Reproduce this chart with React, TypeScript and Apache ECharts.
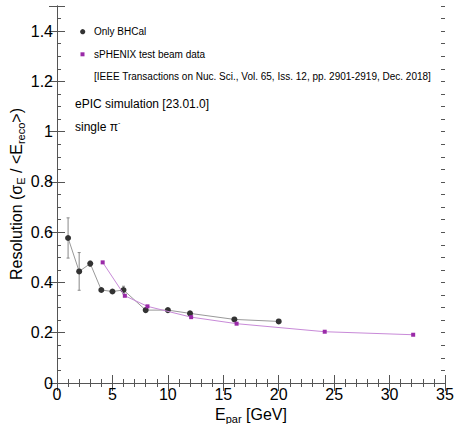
import React, { useEffect, useRef } from "react";
import * as echarts from "echarts";

const bhcalX = [1, 2, 3, 4, 5, 6, 8, 10, 12, 16, 20];
const bhcalY = [0.577, 0.444, 0.475, 0.37, 0.364, 0.37, 0.29, 0.29, 0.277, 0.253, 0.245];
const bhcalErr = [0.08, 0.075, 0.01, 0.005, 0.004, 0.015, 0.006, 0.005, 0.006, 0.004, 0.004];
const sphenixX = [4.12, 6.12, 8.16, 12.1, 16.2, 24.15, 32.13];
const sphenixY = [0.48, 0.347, 0.305, 0.262, 0.236, 0.204, 0.192];

const FONT = "Liberation Sans, Arial, Helvetica, sans-serif";
const AX = "#555";

export default function App() {
  const ref = useRef<HTMLDivElement>(null);
  useEffect(() => {
    if (!ref.current) return;
    const chart = echarts.init(ref.current, null, { renderer: "svg" });
    const tickBase = { show: true, inside: true, lineStyle: { color: AX, width: 1 } };
    const xCommon = {
      type: "value",
      min: 0,
      max: 35,
      interval: 5,
      axisLine: { show: true, lineStyle: { color: AX, width: 1 } },
      axisTick: { ...tickBase, length: 8 },
      minorTick: { show: true, splitNumber: 5, length: 4, lineStyle: { color: AX, width: 1 } },
      splitLine: { show: false },
      minorSplitLine: { show: false },
    };
    const yMajor = {
      type: "value",
      min: 0,
      max: 1.5,
      interval: 0.2,
      axisLine: { show: true, lineStyle: { color: AX, width: 1 } },
      axisTick: { ...tickBase, length: 8 },
      splitLine: { show: false },
    };
    const yMinor = {
      type: "value",
      min: 0,
      max: 1.5,
      interval: 0.05,
      axisLine: { show: false },
      axisTick: { ...tickBase, length: 4 },
      axisLabel: { show: false },
      splitLine: { show: false },
    };
    chart.setOption({
      animation: false,
      grid: { left: 57, right: 12, top: 6, bottom: 41, containLabel: false },
      xAxis: [
        {
          ...xCommon,
          position: "bottom",
          axisLabel: { show: true, fontSize: 16, color: "#000", fontFamily: FONT, margin: 3 },
        },
        { ...xCommon, position: "top", axisLabel: { show: false } },
      ],
      yAxis: [
        {
          ...yMajor,
          position: "left",
          axisLabel: {
            show: true,
            fontSize: 16,
            color: "#000",
            fontFamily: FONT,
            margin: 4,
            formatter: (v: number) => (v > 1.45 ? "" : String(Math.round(v * 10) / 10)),
          },
        },
        { ...yMajor, position: "right", axisLabel: { show: false } },
        { ...yMinor, position: "left" },
        { ...yMinor, position: "right" },
      ],
      series: [
        {
          type: "custom",
          z: 1,
          data: bhcalX.map((x, i) => [x, bhcalY[i], bhcalErr[i]]),
          renderItem: (params: any, api: any) => {
            const x = api.value(0);
            const y = api.value(1);
            const e = api.value(2);
            const top = api.coord([x, y + e]);
            const bot = api.coord([x, y - e]);
            const st = { stroke: "#888", lineWidth: 1 };
            return {
              type: "group",
              children: [
                { type: "line", shape: { x1: top[0], y1: top[1], x2: bot[0], y2: bot[1] }, style: st },
                { type: "line", shape: { x1: top[0] - 1.5, y1: top[1], x2: top[0] + 1.5, y2: top[1] }, style: st },
                { type: "line", shape: { x1: bot[0] - 1.5, y1: bot[1], x2: bot[0] + 1.5, y2: bot[1] }, style: st },
              ],
            };
          },
        },
        {
          type: "line",
          name: "Only BHCal",
          z: 3,
          data: bhcalX.map((x, i) => [x, bhcalY[i]]),
          symbol: "circle",
          symbolSize: 6,
          lineStyle: { color: "#999", width: 1 },
          itemStyle: { color: "#333" },
        },
        {
          type: "line",
          name: "sPHENIX test beam data",
          z: 4,
          data: sphenixX.map((x, i) => [x, sphenixY[i]]),
          symbol: "rect",
          symbolSize: 4,
          lineStyle: { color: "#c88ad8", width: 1 },
          itemStyle: { color: "#9a2aa8" },
        },
      ],
      graphic: [
        { type: "circle", shape: { cx: 82.7, cy: 31.7, r: 2.6 }, style: { fill: "#333" } },
        { type: "rect", shape: { x: 80.5, y: 52.3, width: 4, height: 4 }, style: { fill: "#9a2aa8" } },
        {
          type: "text",
          style: { text: "Only BHCal", x: 94, y: 31.7, font: `10px ${FONT}`, fill: "#000", verticalAlign: "middle" },
        },
        {
          type: "text",
          style: { text: "sPHENIX test beam data", x: 94, y: 54.3, font: `10px ${FONT}`, fill: "#000", verticalAlign: "middle" },
        },
        {
          type: "text",
          style: {
            text: "[IEEE Transactions on Nuc. Sci., Vol. 65, Iss. 12, pp. 2901-2919, Dec. 2018]",
            x: 94,
            y: 76.7,
            font: `10px ${FONT}`,
            fill: "#000",
            verticalAlign: "middle",
          },
        },
        {
          type: "text",
          style: { text: "ePIC simulation [23.01.0]", x: 75, y: 104.3, font: `12px ${FONT}`, fill: "#000", verticalAlign: "middle" },
        },
        {
          type: "text",
          style: {
            text: "{a|single π}{sup|-}",
            x: 75,
            y: 126.7,
            verticalAlign: "middle",
            rich: {
              a: { fontSize: 12, fontFamily: FONT, fill: "#000", color: "#000" },
              sup: { fontSize: 7, fontFamily: FONT, color: "#000", padding: [0, 0, 8, 0] },
            },
          },
        },
        {
          type: "text",
          style: {
            text: "{a|E}{s|par}{a| [GeV]}",
            x: 251,
            y: 414,
            align: "center",
            verticalAlign: "middle",
            rich: {
              a: { fontSize: 16, fontFamily: FONT, color: "#000" },
              s: { fontSize: 11, fontFamily: FONT, color: "#000", padding: [10, 0, 0, 0] },
            },
          },
        },
        {
          type: "text",
          x: 16,
          y: 194,
          rotation: Math.PI / 2,
          style: {
            text: "{a|Resolution (σ}{s|E}{a| / <E}{s|reco}{a|>)}",
            x: 0,
            y: 0,
            align: "center",
            verticalAlign: "middle",
            rich: {
              a: { fontSize: 16, fontFamily: FONT, color: "#000" },
              s: { fontSize: 11, fontFamily: FONT, color: "#000", padding: [10, 0, 0, 0] },
            },
          },
        },
      ],
    });
    return () => chart.dispose();
  }, []);
  return (
    <div
      ref={ref}
      style={{ position: "absolute", left: 0, top: 0, width: 457, height: 424, background: "#fff" }}
    />
  );
}
